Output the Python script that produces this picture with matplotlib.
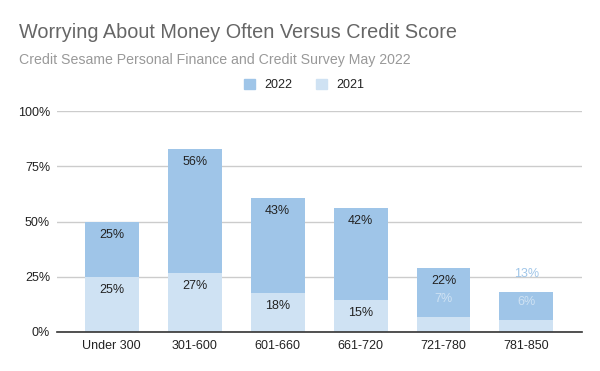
import numpy as np
import matplotlib
matplotlib.use("Agg")
import matplotlib.pyplot as plt
from matplotlib.patches import Patch

plt.rcParams['font.family'] = ['Liberation Sans', 'DejaVu Sans']

# data (percent)
categories = ["Under 300", "301-600", "601-660", "661-720", "721-780", "781-850"]
y2021 = [25, 26.8, 17.6, 14.6, 6.8, 5.6]
y2022 = [25, 56.2, 43.2, 41.6, 22.1, 12.6]
yticks = [0, 25, 50, 75, 100]

c2022 = "#9fc5e8"
c2021 = "#cfe2f3"

fig = plt.figure(figsize=(6, 3.71), dpi=100)
ax = fig.add_axes([57 / 600, 39 / 371, 525 / 600, 221 / 371])

x = np.arange(len(categories))
w = 0.65
ax.bar(x, y2021, w, color=c2021, zorder=2)
ax.bar(x, y2022, w, bottom=y2021, color=c2022, zorder=2)

# segment labels: inside near the top, or above when the segment is too short
def label(xi, bottom, h, col):
    top = bottom + h
    txt = f"{h:.0f}%"
    if h < 14:
        ax.annotate(txt, (xi, top), xytext=(0, 13), textcoords="offset points",
                    ha="center", va="center", fontsize=9, color=col, zorder=3)
    else:
        ax.annotate(txt, (xi, top), xytext=(0, -9.5), textcoords="offset points",
                    ha="center", va="center", fontsize=9, color="#222222", zorder=3)

for i in range(len(categories)):
    label(x[i], 0, y2021[i], c2021)
    label(x[i], y2021[i], y2022[i], c2022)

ax.set_xlim(-0.66, len(categories) - 0.33)
ax.set_ylim(0, 100)
ax.set_yticks(yticks)
ax.set_yticklabels([f"{t}%" for t in yticks])
ax.set_xticks(x)
ax.set_xticklabels(categories)
ax.grid(axis="y", color="#cccccc", linewidth=1, zorder=0)
for s in ["top", "right", "left"]:
    ax.spines[s].set_visible(False)
ax.spines["bottom"].set_color("#333333")
ax.spines["bottom"].set_linewidth(1.2)
ax.spines["bottom"].set_zorder(4)
ax.tick_params(axis="both", length=0, labelsize=9, colors="#222222")
ax.tick_params(axis="y", pad=5)
ax.tick_params(axis="x", pad=6)

fig.text(19 / 600, 1 - 38 / 371, "Worrying About Money Often Versus Credit Score",
         fontsize=14.3, color="#666666", ha="left", va="baseline")
fig.text(19 / 600, 1 - 64 / 371, "Credit Sesame Personal Finance and Credit Survey May 2022",
         fontsize=10.2, color="#999999", ha="left", va="baseline")

handles = [Patch(color=c2022, label="2022"), Patch(color=c2021, label="2021")]
fig.legend(handles=handles, loc="center", bbox_to_anchor=(304 / 600, 1 - 85 / 371), ncol=2,
           frameon=False, fontsize=9, handlelength=0.9, handleheight=0.9,
           handletextpad=0.7, columnspacing=1.9, labelcolor="#222222")

fig.savefig("out.png", dpi=100, facecolor="white")
